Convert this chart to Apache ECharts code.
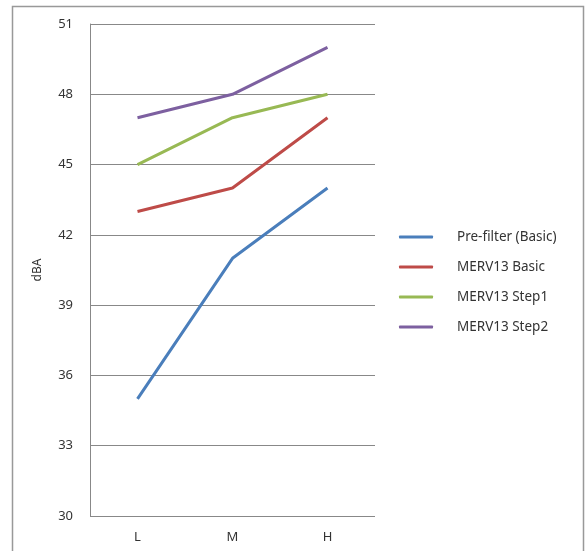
<!DOCTYPE html>
<html><head><meta charset="utf-8">
<script src="https://cdn.jsdelivr.net/npm/echarts@6/dist/echarts.min.js"></script>
<style>html,body{margin:0;padding:0;background:#fff}#c{width:587px;height:551px}</style>
</head><body><div id="c"></div>
<script>
const categories = ['L', 'M', 'H'];
const seriesNames = ['Pre-filter (Basic)', 'MERV13 Basic', 'MERV13 Step1', 'MERV13 Step2'];
const preFilter = [35, 41, 44];
const merv13Basic = [43, 44, 47];
const merv13Step1 = [45, 47, 48];
const merv13Step2 = [47, 48, 50];
const colors = ['#4a7ebb', '#be4b48', '#98b954', '#7d60a0'];
const values = [preFilter, merv13Basic, merv13Step1, merv13Step2];

const chart = echarts.init(document.getElementById('c'));
const font = '"Noto Sans", "Open Sans", sans-serif';
chart.setOption({
  animation: false,
  textStyle: {fontFamily: font},
  graphic: [{type: 'rect', shape: {x: 12.5, y: 6.5, width: 571, height: 560}, style: {fill: 'none', stroke: '#999', lineWidth: 1.5}, z: -1}],
  grid: {left: 90, top: 24, right: 212, bottom: 35},
  legend: {
    orient: 'vertical', left: 394, top: 224,
    itemWidth: 34, itemHeight: 3, icon: 'roundRect', itemGap: 14,
    textStyle: {fontSize: 13.5, color: '#333', fontFamily: font, lineHeight: 16, padding: [0, 0, 0, 19]},
    data: seriesNames
  },
  xAxis: {
    type: 'category', data: categories, boundaryGap: true,
    axisLine: {show: false}, axisTick: {show: false},
    axisLabel: {color: '#333', fontSize: 13, margin: 15, fontFamily: font}
  },
  yAxis: {
    type: 'value', min: 30, max: 51, interval: 3,
    name: 'dBA', nameLocation: 'middle', nameGap: 46, nameRotate: 90,
    nameTextStyle: {color: '#333', fontSize: 12, fontFamily: font},
    axisLine: {show: true, lineStyle: {color: '#888', width: 1}},
    axisTick: {show: false},
    splitLine: {lineStyle: {color: '#888', width: 1}},
    axisLabel: {color: '#333', fontSize: 13, margin: 17, fontFamily: font}
  },
  series: seriesNames.map((n, i) => ({
    name: n, type: 'line', data: values[i], showSymbol: false, symbol: 'none',
    lineStyle: {color: colors[i], width: 3}, itemStyle: {color: colors[i]}
  }))
});
</script></body></html>
